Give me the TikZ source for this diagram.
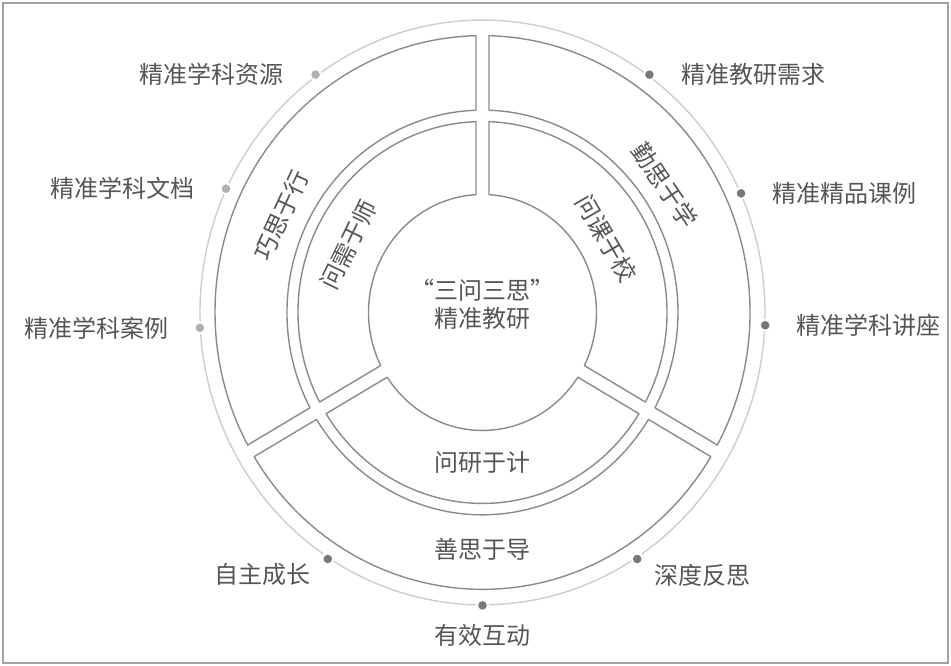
\documentclass[tikz,border=0pt]{standalone}
\usepackage{fontspec}
\newfontfamily\cjkfont{Noto Sans CJK SC}
\usetikzlibrary{positioning}
\definecolor{ringgray}{HTML}{8A8A8A}
\definecolor{outlinegray}{HTML}{CDCDCD}
\definecolor{textgray}{HTML}{555555}
\definecolor{dotlight}{HTML}{B0B0B0}
\definecolor{dotdark}{HTML}{777777}

\begin{document}
\begin{tikzpicture}[x=1pt, y=1.035pt,
    segment/.style={draw=ringgray, line width=1.4pt, line join=round},
    outline/.style={draw=outlinegray, line width=1.4pt},
    dotlt/.style={circle, fill=dotlight, draw=white, line width=2pt, minimum size=11pt, inner sep=0pt},
    dotdk/.style={circle, fill=dotdark, draw=white, line width=2pt, minimum size=11pt, inner sep=0pt},
    lab/.style={text=textgray, inner sep=0pt, font=\cjkfont\fontsize{24}{28}\selectfont},
    node distance=25pt]
        \useasboundingbox (-482.5,-341.5) rectangle (468.5,301.9);
        \draw[draw=ringgray!80, line width=1.5pt] (-479.5,-338.6) rectangle (465.5,299);

        % thin outer circle
        \draw[outline] (0,0) circle[radius=282.5];

        % ring segments
        \foreach \ri/\ro in {195.5/267.5, 114/184.5}
            \foreach \a/\b in {90/210, 210/330, -30/90}
                \draw[segment] ({\a+asin(6.5/\ro)}:\ro) arc[start angle={\a+asin(6.5/\ro)}, end angle={\b-asin(6.5/\ro)}, radius=\ro]
                    -- ({\b-asin(6.5/\ri)}:\ri) arc[start angle={\b-asin(6.5/\ri)}, end angle={\a+asin(6.5/\ri)}, radius=\ri] -- cycle;

        \node[lab, align=center] (core) at (0,8) {“三问三思”\\精准教研};

        \foreach \ang/\rad/\name/\txt in {155/222/qiao/巧思于行, 154/149/xu/问需于师, 34/220/qin/勤思于学, 30/143/ke/问课于校}
            \node[lab, rotate=\ang-90] (\name) at (\ang:\rad) {\txt};
        \node[lab] (yan) at (270:145) {问研于计};
        \node[lab] (dao) at (270:229) {善思于导};

        % dots on the outer circle
        \node[dotlt] (res) at (126:284) {};
        \node[dotlt] (doc) at (155:283) {};
        \node[dotlt] (case) at (183:283) {};
        \node[dotdk] (need) at (54:284) {};
        \node[dotdk] (lesson) at (24:283) {};
        \node[dotdk] (lecture) at (-2.5:283) {};
        \node[dotdk] (grow) at (237:284) {};
        \node[dotdk] (interact) at (270:283) {};
        \node[dotdk] (reflect) at (303:284) {};

        \node[lab, left=of res] (resText) {精准学科资源};
        \node[lab, left=of doc] (docText) {精准学科文档};
        \node[lab, left=of case] (caseText) {精准学科案例};
        \node[lab, right=of need] (needText) {精准教研需求};
        \node[lab, right=of lesson] (lessonText) {精准精品课例};
        \node[lab, right=of lecture] (lectureText) {精准学科讲座};
        \node[lab, below left=0pt and 13pt of grow] (growText) {自主成长};
        \node[lab, below=12pt of interact] (interactText) {有效互动};
        \node[lab, below right=0pt and 13pt of reflect] (reflectText) {深度反思};
    \end{tikzpicture}
\end{document}
